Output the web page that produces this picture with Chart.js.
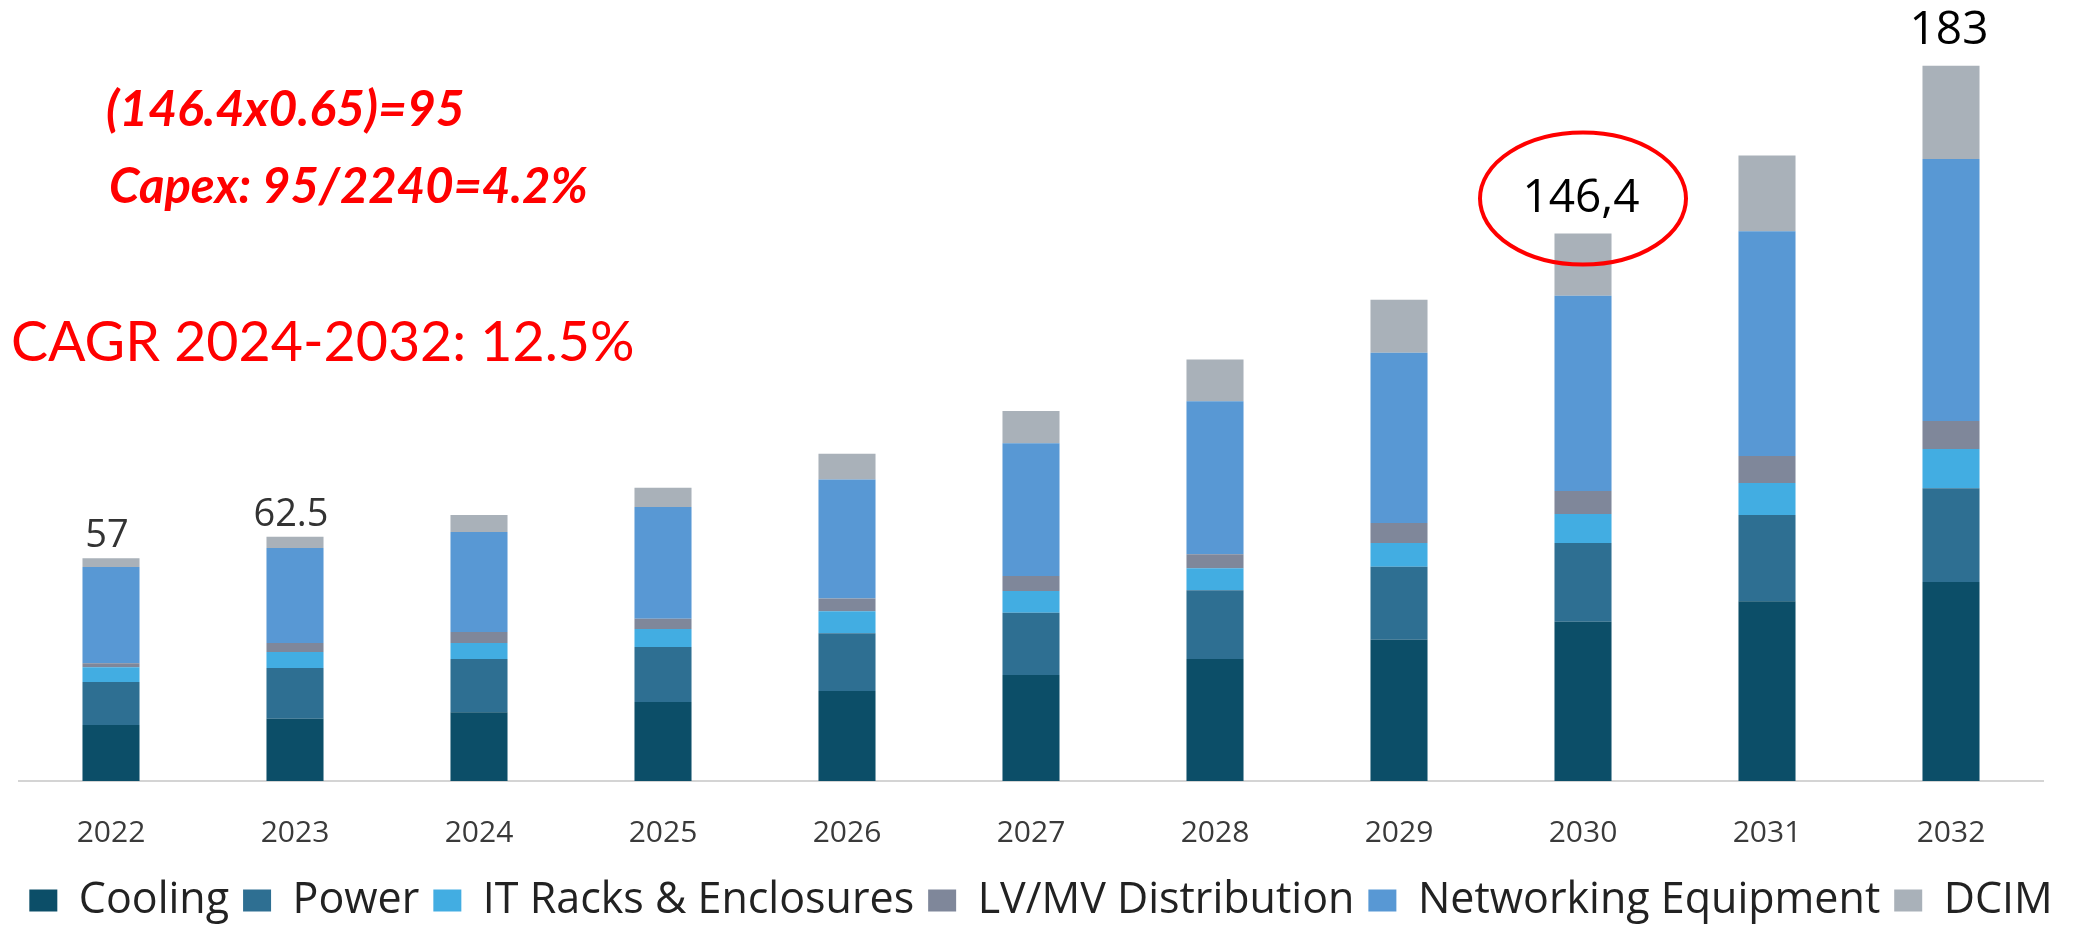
<!DOCTYPE html>
<html>
<head>
<meta charset="utf-8">
<title>Data center infrastructure market</title>
<script src="https://cdn.jsdelivr.net/npm/chart.js@4.4.0/dist/chart.umd.min.js"></script>
<style>
  html, body { margin: 0; padding: 0; background: #fff; }
  #wrap { width: 2082px; height: 925px; position: relative; }
</style>
</head>
<body>
<div id="wrap"><canvas id="market-chart"></canvas></div>
<script>
// categories (x axis)
var years = ["2022", "2023", "2024", "2025", "2026", "2027", "2028", "2029", "2030", "2031", "2032"];

// segment values (USD bn)
var cooling    = [14.3, 15.9, 17.6, 20.2, 23.0, 27.1, 31.2, 36.1, 40.7, 46.0, 50.9];
var power      = [11.0, 13.0, 13.6, 14.1, 14.8, 15.9, 17.6, 18.7, 20.2, 22.0, 24.0];
var itRacks    = [3.8, 4.1, 4.1, 4.6, 5.6, 5.6, 5.6, 6.1, 7.4, 8.2, 10.0];
var lvmv       = [1.0, 2.3, 2.8, 2.6, 3.3, 3.8, 3.6, 5.1, 5.9, 6.9, 7.2];
var networking = [24.6, 24.3, 25.6, 28.6, 30.4, 34.0, 39.1, 43.5, 49.9, 57.5, 67.0];
var dcim       = [2.3, 2.9, 4.3, 4.9, 6.6, 8.2, 10.7, 13.6, 15.9, 19.4, 23.8];

// total labels written above some bars
var labelYears = ["2022", "2023", "2030", "2032"];
var labelTexts = ["57", "62.5", "146,4", "183"];

// red notes
var noteLines = ["(146.4x0.65)=95", "Capex: 95/2240=4.2%"];
var cagrText = "CAGR 2024-2032: 12.5%";

/*******************************
* font size so that a text fills a given width
*******************************/
function fitFont(ctx, text, style, family, width) {
  ctx.font = style + " 100px " + family;
  var w = ctx.measureText(text).width;
  return style + " " + (100 * width / w).toFixed(1) + "px " + family;
}

/*******************************
* totals above bars, the red circle and the red notes
*******************************/
var notesPlugin = {
  id: "notes",
  afterDraw: function(chart) {
    var ctx = chart.ctx;
    var xs = chart.scales.x, ys = chart.scales.y;
    ctx.save();
    ctx.textAlign = "center";
    ctx.textBaseline = "alphabetic";

    for (var i = 0; i < labelYears.length; i++) {
      var idx = years.indexOf(labelYears[i]);
      var total = 0;
      chart.data.datasets.forEach(function(ds) { total += ds.data[idx]; });
      var px = xs.getPixelForValue(idx);
      var py = ys.getPixelForValue(total);
      var big = idx >= 8;
      ctx.fillStyle = big ? "#000" : "#333";
      ctx.font = (big ? "46px" : "38px") + " 'Open Sans', sans-serif";
      var lx = big ? px - 2 : px - 4;
      var ly = big ? py - 22 : py - 11;
      ctx.fillText(labelTexts[i], lx, ly);

      if (labelTexts[i] === "146,4") {
        ctx.strokeStyle = "#ff0000";
        ctx.lineWidth = 4;
        ctx.beginPath();
        ctx.ellipse(lx + 2, ly - 13, 103, 66, 0, 0, Math.PI * 2);
        ctx.stroke();
      }
    }

    ctx.fillStyle = "#ff0000";
    ctx.textAlign = "left";
    ctx.font = fitFont(ctx, noteLines[0], "italic bold", "Lato, sans-serif", 359);
    ctx.fillText(noteLines[0], 106, 126);
    ctx.font = fitFont(ctx, noteLines[1], "italic bold", "Lato, sans-serif", 479);
    ctx.fillText(noteLines[1], 109, 203);
    ctx.font = fitFont(ctx, cagrText, "normal", "Lato, sans-serif", 624);
    ctx.fillText(cagrText, 11, 361);
    ctx.restore();
  }
};

new Chart("market-chart", {
  type: "bar",
  data: {
    labels: years,
    datasets: [
      { label: "Cooling", data: cooling, backgroundColor: "#0c4e68" },
      { label: "Power", data: power, backgroundColor: "#2e6f92" },
      { label: "IT Racks & Enclosures", data: itRacks, backgroundColor: "#42ade2" },
      { label: "LV/MV Distribution", data: lvmv, backgroundColor: "#7f879a" },
      { label: "Networking Equipment", data: networking, backgroundColor: "#5898d4" },
      { label: "DCIM", data: dcim, backgroundColor: "#a9b1b9" }
    ]
  },
  options: {
    responsive: true,
    maintainAspectRatio: false,
    animation: false,
    layout: { padding: { left: 0, right: 0, top: 60, bottom: -7 } },
    datasets: { bar: { categoryPercentage: 1, barPercentage: 0.31 } },
    scales: {
      x: {
        stacked: true,
        grid: { display: false, drawTicks: false },
        border: { display: true, color: "#d4d4d4", width: 2 },
        ticks: { color: "#3a3a3a", padding: 34, font: { family: "'Open Sans', sans-serif", size: 30 } },
        afterFit: function(s) { s.height -= 20; }
      },
      y: {
        stacked: true,
        min: 0,
        max: 184.4,
        grid: { display: false, drawTicks: false },
        border: { display: false },
        ticks: { display: false },
        afterFit: function(s) { s.width = 19; }
      },
      yRight: {
        position: "right",
        grid: { display: false, drawTicks: false },
        border: { display: false },
        ticks: { display: false },
        afterFit: function(s) { s.width = 39; }
      }
    },
    plugins: {
      tooltip: { enabled: false },
      legend: {
        position: "bottom",
        labels: {
          color: "#222",
          boxWidth: 28,
          boxHeight: 22,
          padding: 14,
          font: { family: "'Open Sans', sans-serif", size: 43 }
        }
      }
    }
  },
  plugins: [notesPlugin]
});
</script>
</body>
</html>
